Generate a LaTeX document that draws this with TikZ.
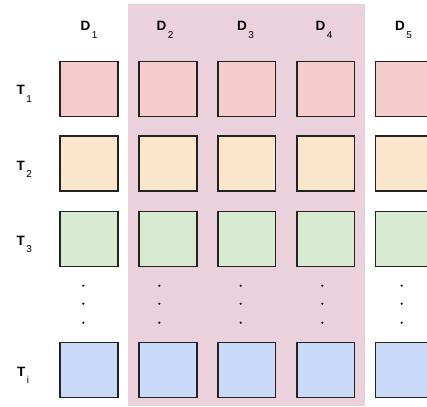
\documentclass[tikz,border=0pt]{standalone}
\usepackage{fontspec}
\setmainfont{Liberation Sans}
\definecolor{bgpink}{HTML}{EAD1DC}
\definecolor{cred}{HTML}{F4CCCC}
\definecolor{corange}{HTML}{FCE5CD}
\definecolor{cgreen}{HTML}{D9EAD3}
\definecolor{cblue}{HTML}{C9DAF8}
\definecolor{cline}{HTML}{222222}
\tikzset{
  cell/.style={draw=cline, line width=1.7pt, rectangle, inner sep=0pt,
    minimum width=57.8pt, minimum height=54.8pt},
  lbl/.style={anchor=base west, inner sep=0pt, font=\fontsize{13.5}{13.5}\selectfont\bfseries},
  vdot/.style={circle, fill=black, inner sep=0pt, minimum size=2.4pt},
}
\newcommand{\labsub}[2]{#1\kern1.5pt\raisebox{-7.5pt}{\fontsize{10}{10}\selectfont\mdseries #2}}
\begin{document}
\begin{tikzpicture}[x=1pt,y=-1pt]
\useasboundingbox (0,0) rectangle (427,406);
\fill[bgpink] (128,4) rectangle (365,406);
% column labels
\node[lbl] (d1) at (80.5,31) {\labsub{D}{1}};
\node[lbl] (d2) at (156.5,31) {\labsub{D}{2}};
\node[lbl] (d3) at (237,31) {\labsub{D}{3}};
\node[lbl] (d4) at (315.5,31) {\labsub{D}{4}};
\node[lbl] (d5) at (395,31) {\labsub{D}{5}};
% row labels
\node[lbl] (t1) at (16.5,95) {\labsub{T}{1}};
\node[lbl] (t2) at (16.5,170) {\labsub{T}{2}};
\node[lbl] (t3) at (16.5,245) {\labsub{T}{3}};
\node[lbl] (ti) at (17,376) {\labsub{T}{i}};
% cells
\foreach \c/\x in {1/88.9,2/167.8,3/246.7,4/325.6,5/404.5}{
  \node[cell, fill=cred] (a\c) at (\x,89) {};
  \node[cell, fill=corange] (b\c) at (\x,163.7) {};
  \node[cell, fill=cgreen] (g\c) at (\x,239) {};
  \node[cell, fill=cblue] (z\c) at (\x,370) {};
}
% vertical dots
\foreach \c/\x in {1/83.3,2/159.3,3/240.7,4/322.3,5/401.7}{
  \node[vdot] (p\c a) at (\x,285.7) {};
  \node[vdot] (p\c b) at (\x,303.7) {};
  \node[vdot] (p\c c) at (\x,322.7) {};
}
\end{tikzpicture}
\end{document}
